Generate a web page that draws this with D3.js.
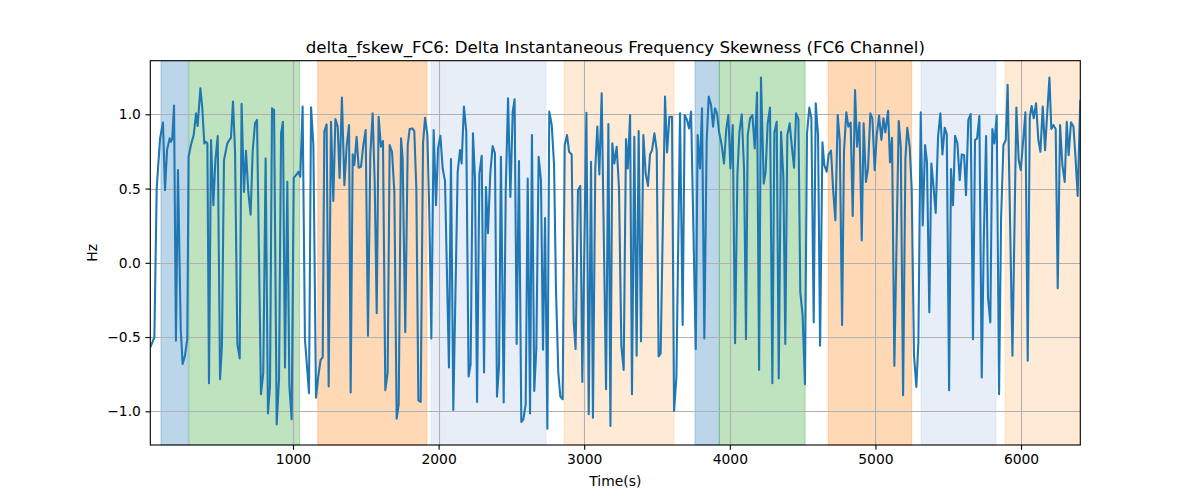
<!DOCTYPE html>
<html>
<head>
<meta charset="utf-8">
<script src="https://cdn.jsdelivr.net/npm/d3@7"></script>
<style>
  html, body { margin: 0; padding: 0; background: #fff; }
  svg { display: block; font-family: "DejaVu Sans", sans-serif; }
</style>
</head>
<body>
<svg id="chart" width="1200" height="500"></svg>
<script>
const titleText = "delta_fskew_FC6: Delta Instantaneous Frequency Skewness (FC6 Channel)";
const xLabel = "Time(s)";
const yLabel = "Hz";
const xTicks = [1000, 2000, 3000, 4000, 5000, 6000];
const yTicks = [-1.0, -0.5, 0.0, 0.5, 1.0];
const xDomain = [20, 6407];
const yDomain = [-1.227, 1.361];

// shaded spans: start, end, color
const spanStart = [93, 286, 1170, 1948, 2862, 3761, 3928, 4675, 5313, 5890];
const spanEnd   = [281, 1045, 1920, 2738, 3617, 3928, 4517, 5249, 5828, 6407];
const spanColor = ["#1f77b4", "#2ca02c", "#ff7f0e", "#aec7e8", "#ffbb78",
                   "#1f77b4", "#2ca02c", "#ff7f0e", "#aec7e8", "#ffbb78"];

const times = [
  20,48,64,87,107,121,135,153,162,171,183,196,210,229,242,258,274,283,299,318,
  334,345,364,377,391,402,412,423,437,453,467,483,499,512,526,549,567,574,588,602,
  618,634,647,663,677,693,709,723,739,753,780,796,812,828,842,856,870,888,904,918,
  931,945,961,975,991,1005,1025,1037,1050,1066,
  1082,1110,1124,1140,1158,1174,1190,1204,1215,1231,1245,1261,1277,1291,1307,1320,
  1336,1353,1369,1385,1396,1410,1421,1437,1451,1467,1483,1499,1515,1531,1547,1561,
  1575,1588,1604,1618,1634,1650,1664,1680,1696,1712,1726,1742,1753,1771,1788,1801,
  1820,1833,1847,1861,1877,1893,1907,1923,1936,1950,1966,1982,1996,2012,2028,2044,
  2071,2085,2101,2131,2147,2158,2174,2190,2206,2220,2236,2250,2264,2280,2296,2312,
  2325,2339,2355,2371,2387,2401,2415,2428,2447,2461,2477,2493,2509,2522,2536,2552,
  2568,2582,2598,2612,2628,2641,2657,2671,2687,2703,2717,2731,2747,2760,2777,2793,
  2806,2822,2836,2852,2866,2882,2896,2914,2928,2941,2957,2973,2987,3015,3031,3047,
  3060,3076,
  3090,3104,3120,3150,3166,3180,3193,3207,3223,3239,3255,3271,3287,3299,3315,3328,
  3344,3360,3374,3390,3406,3422,3438,3452,3466,3482,3498,3511,3525,3555,3569,3585,
  3603,3617,3633,3658,3676,3690,3706,3720,3734,3766,3779,3795,3809,3825,3841,3855,
  3871,3885,3898,3912,3926,3944,3960,3976,3990,4004,4020,4036,4052,4066,4082,4098,
  4111,
  4123,4139,4155,4171,4187,4201,4214,4233,4246,4260,4276,4292,4306,4322,4336,4352,
  4368,4381,4395,4411,4425,4441,4455,4471,4484,4500,4516,4530,4546,4560,4576,4590,
  4606,4620,4636,4649,4665,4679,4695,4709,4725,4741,4755,4771,4784,4800,4814,4830,
  4844,4860,4874,4890,4906,4919,4935,4949,4965,4979,4995,5009,5025,5041,5055,5068,
  5087,5100,5114,5130,
  5160,5174,5190,5206,5219,5235,5249,5265,5281,5295,5311,5325,5341,5354,5370,5384,
  5400,5414,5430,5446,5460,5476,5490,5506,5519,5533,5547,5563,5579,5593,5609,5622,
  5638,5654,5670,5684,5698,5714,5730,5744,5760,5773,5789,5803,5817,5833,5849,5863,
  5879,5895,5908,5941,5968,5984,5998,6014,6030,6046,6060,6073,6087,6103,6119,6133,
  6149,6165,6179,6195,6208,6222,6238,6252,6268,6284,6300,6314,6327,6343,6360,6373,
  6389,6407
];

const values = [
  -0.570,-0.502,0.500,0.838,0.944,0.489,0.759,0.838,0.815,0.838,1.059,-0.525,0.624,-0.446,-0.682,-0.626,-0.514,0.714,0.793,0.860,
  1.007,0.921,1.176,1.041,0.804,0.815,0.804,-0.811,0.827,0.387,0.691,0.854,-0.784,-0.559,0.691,0.804,0.833,0.842,1.086,0.748,
  -0.547,-0.644,1.070,0.477,0.755,0.477,0.324,0.748,0.939,0.962,-0.885,-0.739,0.703,-1.014,-0.829,1.041,1.029,-1.088,-0.784,0.872,
  0.950,-0.705,0.545,-0.829,-1.054,0.572,0.595,0.613,0.579,1.052,
  -0.514,-0.878,1.047,0.793,-0.908,-0.761,-0.653,-0.637,0.883,0.932,-0.833,0.950,0.417,0.968,0.917,0.572,
  1.113,0.523,0.793,0.928,-0.874,0.730,0.658,0.849,0.640,0.646,0.793,0.894,-0.491,0.725,1.007,0.545,
  -0.340,0.984,0.782,0.820,-0.858,-0.739,0.793,0.748,0.477,-1.050,-0.953,0.838,0.703,-0.468,0.793,0.901,
  0.905,0.887,0.500,-0.926,-0.937,0.804,0.977,0.860,0.342,-0.509,0.894,0.387,0.770,0.856,0.635,0.550,
  -0.705,0.698,-0.991,0.613,0.759,0.669,1.052,0.883,-0.766,-0.682,0.872,0.568,-0.937,0.601,0.721,-0.739,
  0.511,0.200,0.601,0.786,0.736,-0.901,-0.694,0.714,-0.941,0.489,1.108,0.444,1.018,1.101,-0.547,0.685,
  -1.072,-1.054,-0.953,0.568,-1.014,0.860,-0.863,-0.581,0.714,0.556,-0.586,0.302,-1.117,1.018,0.928,0.658,
  -0.176,-0.739,-0.901,-0.919,0.793,0.860,0.748,0.730,-0.401,-0.581,0.489,0.518,-0.802,1.011,-1.020,0.680,
  -1.043,0.635,
  0.917,0.595,1.142,-0.851,0.935,-1.099,0.804,0.669,0.782,0.500,-0.559,-0.721,0.833,0.635,0.995,-0.885,
  0.849,-0.626,0.887,-0.529,0.860,0.601,0.518,0.730,0.759,0.872,0.759,-0.631,-0.610,1.119,0.743,0.984,
  0.984,-0.998,-0.773,1.007,-0.419,0.995,0.962,0.905,1.018,-0.581,0.860,0.635,1.041,-0.509,0.820,1.119,
  1.063,0.917,1.041,1.007,0.883,0.793,0.669,0.905,0.995,0.635,0.928,-0.541,0.590,0.883,1.000,0.624,
  -0.514,
  0.860,0.973,0.995,0.770,1.146,-0.721,1.248,0.534,0.613,0.939,1.045,-0.811,0.878,0.950,-0.779,0.883,
  0.568,-0.547,0.860,0.939,0.793,0.640,1.007,0.968,-0.198,-0.356,-0.818,0.872,1.045,0.973,-0.401,1.074,
  0.860,-0.559,0.811,0.658,0.613,0.730,0.755,0.500,0.286,0.995,0.827,-0.419,0.748,1.014,0.917,0.944,
  0.315,1.164,0.782,0.944,0.151,0.939,0.545,0.635,1.007,0.973,0.624,0.860,0.991,0.827,0.973,0.878,
  1.023,0.676,0.842,-0.694,
  0.955,0.782,-0.892,0.703,0.910,0.782,0.500,-0.626,-0.836,-0.536,1.014,0.252,0.793,0.680,-0.333,0.669,
  0.500,0.336,0.849,1.007,0.730,0.910,0.865,-0.858,0.631,0.387,0.856,0.804,0.556,0.730,0.725,0.455,
  0.962,1.002,-0.514,0.827,0.838,0.989,-0.773,0.140,0.854,-0.232,-0.401,0.901,0.804,0.991,-0.885,0.297,
  0.793,0.827,1.198,-0.626,1.045,0.691,0.624,0.815,1.014,-0.660,0.984,1.056,0.973,1.074,0.827,0.748,
  1.052,0.759,0.995,1.248,0.901,0.928,0.901,-0.171,0.928,0.658,0.545,0.950,0.725,0.946,0.917,0.725,
  0.450,1.097
];

const margin = { left: 150.3, right: 1080.3, top: 60.7, bottom: 445 };
const svg = d3.select("#chart");

const x = d3.scaleLinear().domain(xDomain).range([margin.left, margin.right]);
const y = d3.scaleLinear().domain(yDomain).range([margin.bottom, margin.top]);

const plot = svg.append("g");

svg.append("defs").append("clipPath").attr("id", "clip")
  .append("rect")
  .attr("x", margin.left).attr("y", margin.top)
  .attr("width", margin.right - margin.left)
  .attr("height", margin.bottom - margin.top);

// spans
const spans = spanStart.map((s, i) => ({ s, e: spanEnd[i], c: spanColor[i] }));
plot.append("g").selectAll("rect").data(spans).join("rect")
  .attr("x", d => x(d.s))
  .attr("y", margin.top)
  .attr("width", d => x(d.e) - x(d.s))
  .attr("height", margin.bottom - margin.top)
  .attr("fill", d => d.c)
  .attr("fill-opacity", 0.3)
  .attr("stroke", d => d.c)
  .attr("stroke-opacity", 0.3)
  .attr("stroke-width", 1);

// grid
const grid = plot.append("g");
grid.selectAll("line.gx").data(xTicks).join("line")
  .attr("class", "gx")
  .attr("x1", d => Math.round(x(d)) + 0.5).attr("x2", d => Math.round(x(d)) + 0.5)
  .attr("y1", margin.top).attr("y2", margin.bottom)
  .attr("stroke", "#b0b0b0").attr("stroke-width", 1.1);
grid.selectAll("line.gy").data(yTicks).join("line")
  .attr("class", "gy")
  .attr("x1", margin.left).attr("x2", margin.right)
  .attr("y1", d => Math.round(y(d)) + 0.5).attr("y2", d => Math.round(y(d)) + 0.5)
  .attr("stroke", "#b0b0b0").attr("stroke-width", 1.1);

// line
const pts = times.map((t, i) => ({ t, v: values[i] }));
plot.append("path")
  .datum(pts)
  .attr("clip-path", "url(#clip)")
  .attr("fill", "none")
  .attr("stroke", "#1f77b4")
  .attr("stroke-width", 2.08)
  .attr("stroke-linejoin", "round")
  .attr("stroke-linecap", "butt")
  .attr("d", d3.line().x(d => x(d.t)).y(d => y(d.v)));

// axes
const fmtY = v => d3.format(".1f")(v).replace("-", "\u2212");
const xAxis = d3.axisBottom(x).tickValues(xTicks).tickFormat(d3.format("d")).tickSizeOuter(0).tickSize(4.86).tickPadding(4.5);
const yAxis = d3.axisLeft(y).tickValues(yTicks).tickFormat(fmtY).tickSizeOuter(0).tickSize(4.86).tickPadding(4.5);

const gx = svg.append("g").attr("transform", `translate(0,${margin.bottom})`).call(xAxis);
const gy = svg.append("g").attr("transform", `translate(${margin.left},0)`).call(yAxis);
[gx, gy].forEach(g => {
  g.select(".domain").remove();
  g.selectAll("text").attr("font-size", "13.89px").attr("fill", "#000").attr("font-family", "DejaVu Sans, sans-serif");
  g.selectAll("line").attr("stroke", "#000").attr("stroke-width", 1.1);
});

// frame
svg.append("rect")
  .attr("x", margin.left).attr("y", margin.top)
  .attr("width", margin.right - margin.left)
  .attr("height", margin.bottom - margin.top)
  .attr("fill", "none").attr("stroke", "#000").attr("stroke-width", 1.1);

// title and labels
svg.append("text")
  .attr("x", (margin.left + margin.right) / 2).attr("y", 52.5)
  .attr("text-anchor", "middle")
  .attr("font-size", "16.67px")
  .text(titleText);
svg.append("text")
  .attr("x", (margin.left + margin.right) / 2).attr("y", 486)
  .attr("text-anchor", "middle")
  .attr("font-size", "13.89px")
  .text(xLabel);
svg.append("text")
  .attr("transform", `translate(97,${(margin.top + margin.bottom) / 2}) rotate(-90)`)
  .attr("text-anchor", "middle")
  .attr("font-size", "13.89px")
  .text(yLabel);
</script>
</body>
</html>
